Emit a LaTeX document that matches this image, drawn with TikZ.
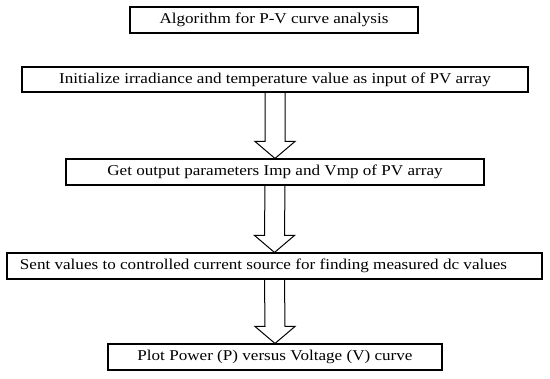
\documentclass[tikz,border=0pt]{standalone}
\usepackage{fontspec}
\setmainfont[FakeStretch=1.14]{Liberation Serif}
\usetikzlibrary{calc}
\begin{document}
\begin{tikzpicture}[x=1pt,y=-1pt,
  box/.style={draw=black, line width=1.1pt, fill=white, minimum height=26pt, inner sep=0pt, font=\fontsize{15}{17}\selectfont},
  blockarrow/.style={draw=black, line width=1pt, line join=miter}]
\useasboundingbox[fill=white] (0,0) rectangle (550,379);
\node[box, minimum width=288pt] (b1) at (274,20) {Algorithm for P-V curve analysis};
\node[box, minimum width=506pt, minimum height=25pt] (b2) at (275,79.5) {Initialize irradiance and temperature value as input of PV array};
\node[box, minimum width=418pt] (b3) at (275,172) {Get output parameters Imp and Vmp of PV array};
\node[box, minimum width=535pt] (b4) at (274.5,266) {Sent values to controlled current source for finding measured dc values\hspace*{22pt}};
\node[box, minimum width=334pt] (b5) at (275,357) {Plot Power (P) versus Voltage (V) curve};
\foreach \a/\b in {b2/b3, b3/b4, b4/b5}{
  \draw[blockarrow] ($(\a.south)+(-10,0)$) -- ($(\b.north)+(-10,-17)$) -- ($(\b.north)+(-20,-17)$) -- (\b.north)
    -- ($(\b.north)+(20,-17)$) -- ($(\b.north)+(10,-17)$) -- ($(\a.south)+(10,0)$);
}
\end{tikzpicture}
\end{document}
